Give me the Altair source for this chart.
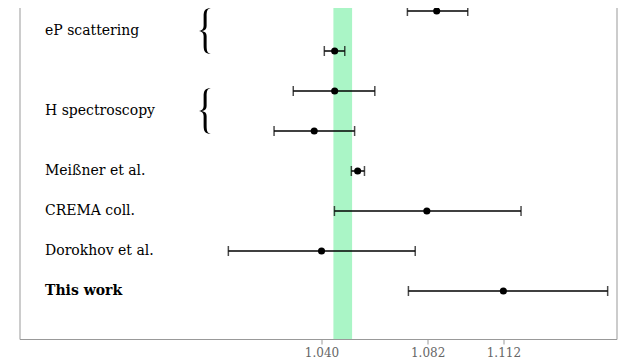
import altair as alt
import pandas as pd

# ---- data ----
rows = [0, 1, 2, 3, 4, 5, 6, 7]
centers = [1.0856, 1.0452, 1.0452, 1.0371, 1.0543, 1.0817, 1.0400, 1.1120]
lows = [1.0740, 1.0411, 1.0288, 1.0212, 1.0518, 1.0451, 1.0031, 1.0744]
highs = [1.0979, 1.0492, 1.0611, 1.0531, 1.0570, 1.1190, 1.0771, 1.1533]

group_names = ["eP scattering", "H spectroscopy"]
group_pos = [0.5, 2.5]

single_names = ["Meißner et al.", "CREMA coll.", "Dorokhov et al.", "This work"]
single_rows = [4, 5, 6, 7]
single_bold = [False, False, False, True]

band_lo = [1.0447]
band_hi = [1.0521]

tick_values = [1.040, 1.082, 1.112]
x_domain = [0.9204, 1.1568]
y_domain = [-0.275, 8.2]

W, H = 597, 339
FONT = "DejaVu Serif"

pts = pd.DataFrame({"row": rows, "c": centers, "lo": lows, "hi": highs})
caps = pd.DataFrame({"row": rows + rows, "x": lows + highs})
groups = pd.DataFrame({"name": group_names, "pos": group_pos})
singles = pd.DataFrame({"name": single_names, "row": single_rows, "bold": single_bold})
band = pd.DataFrame({"lo": band_lo, "hi": band_hi})

xs = alt.Scale(domain=x_domain, nice=False, zero=False)
ys = alt.Scale(domain=y_domain, nice=False, zero=False, reverse=True)
xaxis = alt.Axis(values=tick_values, format=".3f", title=None, grid=False,
                 labelFont=FONT, labelFontSize=12, labelColor="#666666",
                 tickColor="#999999", domainColor="#999999", tickSize=5,
                 labelPadding=3)

band_layer = alt.Chart(band).mark_rect(color="#aaf5c6").encode(
    x=alt.X("lo:Q", scale=xs, axis=xaxis),
    x2="hi:Q",
    y=alt.value(0),
    y2=alt.value(H),
)

err = alt.Chart(pts).mark_rule(color="black", strokeWidth=1.5).encode(
    x=alt.X("lo:Q", scale=xs, axis=xaxis),
    x2="hi:Q",
    y=alt.Y("row:Q", scale=ys, axis=None),
)

cap_layer = alt.Chart(caps).mark_tick(color="black", orient="vertical",
                                      thickness=1.5, size=10).encode(
    x=alt.X("x:Q", scale=xs, axis=xaxis),
    y=alt.Y("row:Q", scale=ys, axis=None),
)

dots = alt.Chart(pts).mark_circle(color="black", size=50, opacity=1).encode(
    x=alt.X("c:Q", scale=xs, axis=xaxis),
    y=alt.Y("row:Q", scale=ys, axis=None),
)

group_text = alt.Chart(groups).mark_text(align="left", baseline="middle",
                                         font=FONT, fontSize=14, color="black").encode(
    x=alt.value(25.5),
    y=alt.Y("pos:Q", scale=ys, axis=None),
    text="name:N",
)

BRACE = ("M 0.25 -1 C 0.0 -0.98 -0.06 -0.9 -0.06 -0.62 L -0.06 -0.22 "
         "C -0.06 -0.08 -0.14 -0.02 -0.26 0 C -0.14 0.02 -0.06 0.08 -0.06 0.22 "
         "L -0.06 0.62 C -0.06 0.9 0.0 0.98 0.25 1 "
         "C 0.1 0.96 0.07 0.88 0.07 0.62 L 0.07 0.22 "
         "C 0.07 0.08 0.0 0.03 -0.14 0 C 0.0 -0.03 0.07 -0.08 0.07 -0.22 "
         "L 0.07 -0.62 C 0.07 -0.88 0.1 -0.96 0.25 -1 Z")

braces = alt.Chart(groups).mark_point(shape=BRACE, filled=True, color="black",
                                      size=2116, opacity=1, strokeWidth=0).encode(
    x=alt.value(185.5),
    y=alt.Y("pos:Q", scale=ys, axis=None),
)

normal_text = alt.Chart(singles).transform_filter("!datum.bold").mark_text(
    align="left", baseline="middle", font=FONT, fontSize=14, color="black").encode(
    x=alt.value(25.5),
    y=alt.Y("row:Q", scale=ys, axis=None),
    text="name:N",
)

bold_text = alt.Chart(singles).transform_filter("datum.bold").mark_text(
    align="left", baseline="middle", font=FONT, fontSize=14, fontWeight="bold",
    color="black").encode(
    x=alt.value(25.5),
    y=alt.Y("row:Q", scale=ys, axis=None),
    text="name:N",
)

chart = alt.layer(band_layer, err, cap_layer, dots, group_text, braces,
                  normal_text, bold_text).properties(
    width=W, height=H,
    padding={"left": 11.5, "top": -8, "right": 5, "bottom": 5},
).configure_view(stroke="#999999", strokeWidth=1)

chart.save("out.html", embed_options={"renderer": "svg", "actions": False})
